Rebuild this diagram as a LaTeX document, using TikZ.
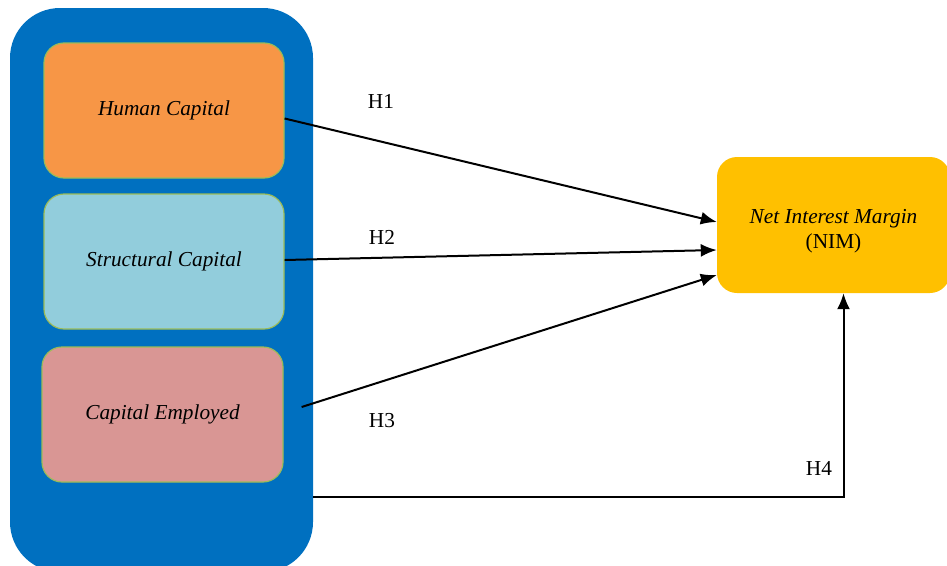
\documentclass[tikz,border=0pt]{standalone}
\usepackage{fontspec}
\setmainfont{Liberation Serif}
\usetikzlibrary{calc,positioning,arrows.meta}
\definecolor{groupblue}{HTML}{0070C0}
\definecolor{humanorange}{HTML}{F79646}
\definecolor{structblue}{HTML}{92CDDC}
\definecolor{employpink}{HTML}{D99694}
\definecolor{nimgold}{HTML}{FFC000}
\definecolor{boxline}{HTML}{9BBB59}

\begin{document}
\begin{tikzpicture}[x=1pt, y=-1pt, inner sep=0.4mm,
		capbox/.style={draw=boxline, line width=1.2pt, rounded corners=20pt, minimum width=240pt, minimum height=135pt, font=\fontsize{21.3}{25.5}\selectfont\itshape},
		hyp/.style={-{Latex[length=16pt,width=13pt]}, line width=2pt},
		hlabel/.style={font=\fontsize{21.3}{25.5}\selectfont}]
		\useasboundingbox (0,0) rectangle (947,565);

		% independent variables
		\node [fill=groupblue, rounded corners=50pt, minimum width=303pt, minimum height=564pt] (group) at (161.5,290) {};
		\node [capbox, fill=humanorange] (hc) at (164,110.5) {Human Capital};
		\node [capbox, fill=structblue] (sc) at (164,261.5) {Structural Capital};
		\node [capbox, fill=employpink, minimum width=241pt] (ce) at (162.5,414.5) {Capital Employed};

		% dependent variable
		\node [fill=nimgold, rounded corners=20pt, minimum width=233pt, minimum height=136pt] (nim) at (833.5,225) {};
		\node [align=center, font=\fontsize{21.3}{25.5}\selectfont] (nimtext) at ($(nim.center)+(0,6)$) {\itshape Net Interest Margin\\(NIM)};

		% hypotheses
		\draw [hyp] ($(hc.east)+(0,8)$) -- ($(nim.west)+(0,-3)$);
		\draw [hyp] ($(sc.east)+(0,-1.5)$) -- ($(nim.west)+(0,25)$);
		\draw [hyp] ($(ce.east)+(18,-7.5)$) -- ($(nim.west)+(0,50)$);
		\coordinate (h4start) at (313,497);
		\draw [hyp] (h4start) -| ($(nim.south)+(10,0)$);

		\node [hlabel] (h1) at (381,101) {H1};
		\node [hlabel] (h2) at (382,237) {H2};
		\node [hlabel] (h3) at (382,421) {H3};
		\node [hlabel] (h4) at (819,468) {H4};
\end{tikzpicture}
\end{document}
